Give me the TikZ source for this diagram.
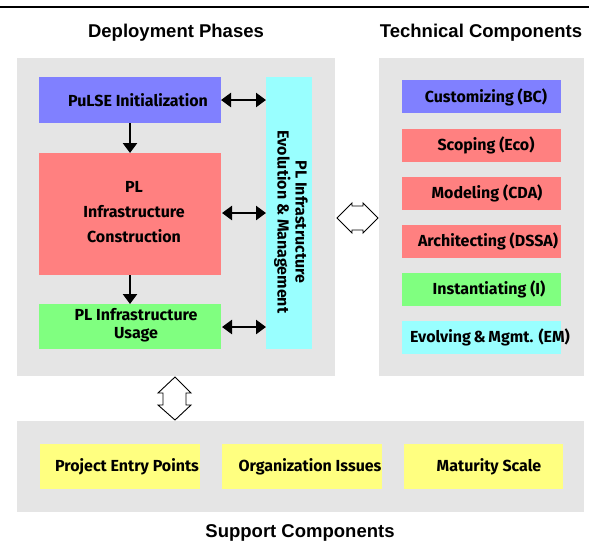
\documentclass[tikz,border=0pt]{standalone}
\usepackage{fontspec}
\setmainfont{Liberation Sans}
\newfontfamily\boxfont{Fira Sans}
\usetikzlibrary{arrows.meta}
\definecolor{panelgray}{RGB}{229,229,229}
\definecolor{pblue}{RGB}{128,128,255}
\definecolor{pred}{RGB}{255,128,128}
\definecolor{pgreen}{RGB}{128,255,128}
\definecolor{pcyan}{RGB}{153,255,255}
\definecolor{pyellow}{RGB}{255,255,128}
\tikzset{
  panel/.style={fill=panelgray, draw=none, inner sep=0pt, outer sep=0pt},
  box/.style={draw=none, inner sep=0pt, outer sep=0pt},
  btext/.style={font=\boxfont\bfseries\fontsize{16}{18}\selectfont, inner sep=0pt},
  title/.style={font=\bfseries\fontsize{18.5}{22}\selectfont, inner sep=0pt},
  flow/.style={line width=2.5pt, -{Triangle[length=10pt,width=14pt]}},
  both/.style={line width=2.5pt, {Triangle[length=10pt,width=14pt]}-{Triangle[length=10pt,width=14pt]}},
  hollow/.style={draw=black, fill=white, line width=0.9pt, line join=miter}
}
\begin{document}
\begin{tikzpicture}[x=1pt,y=-1pt]
\useasboundingbox (0,0) rectangle (589,542);
% top rule
\draw[line width=1.3pt] (0,7) -- (589,7);
% titles
\node[title] (tdep) at (176,32.5) {Deployment Phases};
\node[title] (ttech) at (481,32.5) {Technical Components};
\node[title] (tsup) at (300,533) {Support Components};
% panels
\path[panel] (17,58) rectangle (335,376);
\path[panel] (379,58) rectangle (584,376);
\path[panel] (17,421) rectangle (584,512);
% deployment phase boxes
\node[box, fill=pblue, minimum width=182pt, minimum height=46pt] (init) at (130,100) {};
\node[box, fill=pred, minimum width=182pt, minimum height=122pt] (constr) at (130,214) {};
\node[box, fill=pgreen, minimum width=182pt, minimum height=45pt] (usage) at (130,326.5) {};
\node[box, fill=pcyan, minimum width=46pt, minimum height=272pt] (evol) at (289,213) {};
\node[btext] (tinit) at (138,100) {PuLSE Initialization};
\node[btext, align=center, font=\boxfont\bfseries\fontsize{16}{25}\selectfont] (tconstr) at (134,212) {PL\\Infrastructure\\Construction};
\node[btext, align=center] (tusage) at (136,325) {PL Infrastructure\\Usage};
\node[btext, align=center, rotate=-90] (tevol) at (291,222) {PL Infrastructure\\Evolution \& Management};
% arrows
\draw[flow] (init.south) -- (constr.north);
\draw[flow] (constr.south) -- (usage.north);
\draw[both] (init.east) -- (evol.west |- init.east);
\draw[both] (222,213) -- (evol.west |- 0,213);
\draw[both] (222,327) -- (evol.west |- 0,327);
% technical components
\foreach \n/\y/\c in {cb/96.5/pblue, cs/145.5/pred, cm/193.5/pred, ca/241.5/pred, ci/289.5/pgreen, ce/337.5/pcyan}{
  \node[box, fill=\c, minimum width=159pt, minimum height=33pt] (\n) at (481.5,\y) {};
}
\node[btext] (tcb) at (486,97) {Customizing (BC)};
\node[btext] (tcs) at (486,145) {Scoping (Eco)};
\node[btext] (tcm) at (487,193) {Modeling (CDA)};
\node[btext] (tca) at (488,241) {Architecting (DSSA)};
\node[btext] (tci) at (489,289) {Instantiating (I)};
\node[btext] (tce) at (490,337) {Evolving\,\&\,Mgmt. (EM)};
% support components
\node[box, fill=pyellow, minimum width=160pt, minimum height=45pt] (sp) at (120,466.5) {};
\node[box, fill=pyellow, minimum width=160pt, minimum height=45pt] (so) at (302,466.5) {};
\node[box, fill=pyellow, minimum width=159pt, minimum height=45pt] (sm) at (483.5,466.5) {};
\node[btext] (tsp) at (127,467) {Project Entry Points};
\node[btext] (tso) at (310,467) {Organization Issues};
\node[btext] (tsm) at (489,467) {Maturity Scale};
% hollow double arrows
\draw[hollow] (337,218) -- (352,203) -- (352,206) -- (363,206) -- (363,203) -- (378,218)
  -- (363,233) -- (363,230) -- (352,230) -- (352,233) -- cycle;
\draw[hollow] (175,377) -- (191,393) -- (186,393) -- (186,405) -- (191,405) -- (175,420)
  -- (158,405) -- (163,405) -- (163,393) -- (158,393) -- cycle;
\end{tikzpicture}
\end{document}
